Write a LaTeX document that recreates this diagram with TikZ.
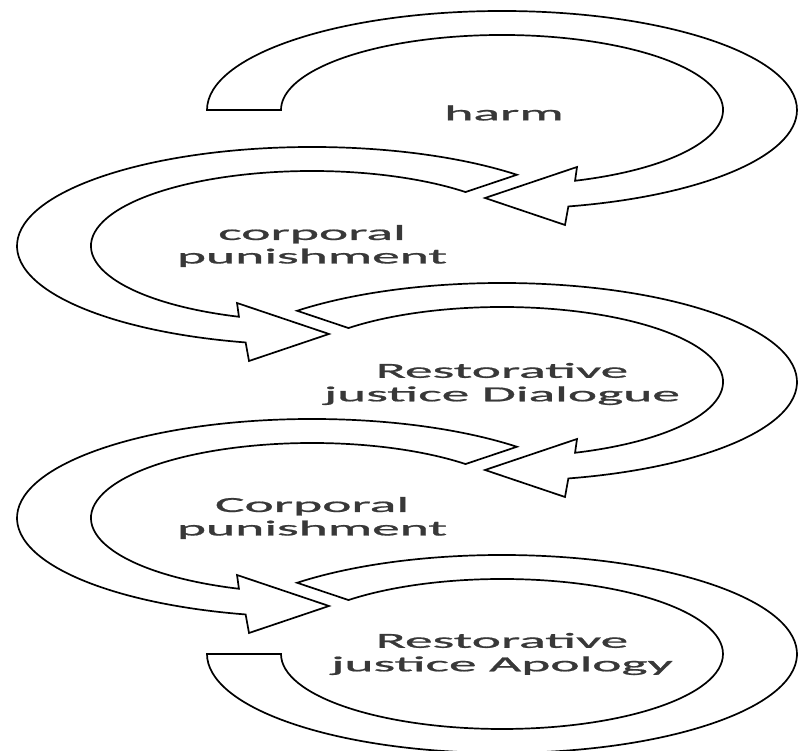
\documentclass[tikz,border=0pt]{standalone}
\usepackage{fontspec}
\setmainfont{Carlito}
\newfontfamily\labelfont[FakeBold=0.8]{Carlito}
\begin{document}
\begin{tikzpicture}[x=1pt,y=1pt,
  band/.style={draw=black, fill=white, line width=1.7pt, line join=miter},
  lbl/.style={font=\labelfont\fontsize{21.5}{23.5}\selectfont, text=black!78, align=center, xscale=2.58, inner sep=0pt}]
\useasboundingbox (0,0) rectangle (798,751);
% outer ellipse 295 x 99, inner ellipse 221 x 75

% 1: harm (clockwise, flat tail on the left)
\begin{scope}[shift={(502,641)}]
  \draw[band] (180:295pt and 99pt) arc[start angle=180, end angle=-77, x radius=295pt, y radius=99pt]
    -- (63,-115) -- (-17,-88) -- (75,-57)
    -- (-70.7:221pt and 75pt) arc[start angle=-70.7, end angle=180, x radius=221pt, y radius=75pt] -- cycle;
  \node[lbl] (harm) at (2,-3) {harm};
\end{scope}

% 2: corporal punishment (counter-clockwise)
\begin{scope}[shift={(312,505)}]
  \draw[band] (46:295pt and 99pt) arc[start angle=46, end angle=257, x radius=295pt, y radius=99pt]
    -- (-63,-115) -- (17,-88) -- (-75,-57)
    -- (250.7:221pt and 75pt) arc[start angle=250.7, end angle=46, x radius=221pt, y radius=75pt] -- cycle;
  \node[lbl] (cp1) at (0,0) {corporal\\punishment};
\end{scope}

% 3: Restorative justice Dialogue (clockwise)
\begin{scope}[shift={(502,369)}]
  \draw[band] (134:295pt and 99pt) arc[start angle=134, end angle=-77, x radius=295pt, y radius=99pt]
    -- (63,-115) -- (-17,-88) -- (75,-57)
    -- (-70.7:221pt and 75pt) arc[start angle=-70.7, end angle=134, x radius=221pt, y radius=75pt] -- cycle;
  \node[lbl] (rjd) at (0,-2) {Restorative\\justice Dialogue};
\end{scope}

% 4: Corporal punishment (counter-clockwise)
\begin{scope}[shift={(312,233)}]
  \draw[band] (46:295pt and 99pt) arc[start angle=46, end angle=257, x radius=295pt, y radius=99pt]
    -- (-63,-115) -- (17,-88) -- (-75,-57)
    -- (250.7:221pt and 75pt) arc[start angle=250.7, end angle=46, x radius=221pt, y radius=75pt] -- cycle;
  \node[lbl] (cp2) at (0,0) {Corporal\\punishment};
\end{scope}

% 5: Restorative justice Apology (clockwise, no head, flat end on the left)
\begin{scope}[shift={(502,97)}]
  \draw[band] (134:295pt and 99pt) arc[start angle=134, end angle=-180, x radius=295pt, y radius=99pt]
    -- (-180:221pt and 75pt) arc[start angle=-180, end angle=134, x radius=221pt, y radius=75pt] -- cycle;
  \node[lbl] (rja) at (0,0) {Restorative\\justice Apology};
\end{scope}
\end{tikzpicture}
\end{document}
